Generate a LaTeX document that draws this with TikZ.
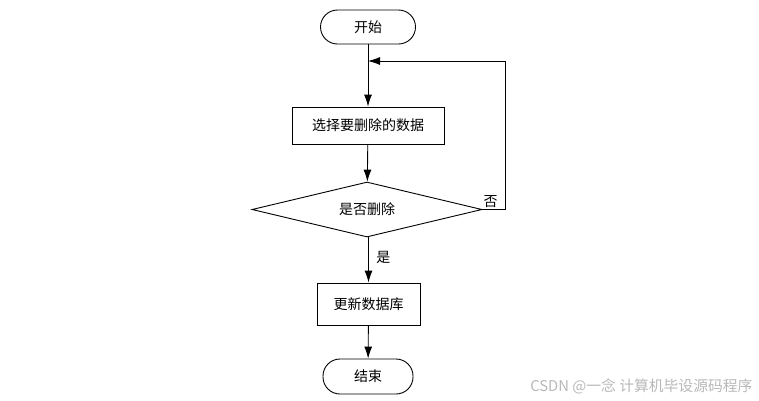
\documentclass[tikz,border=0pt]{standalone}
\usepackage{fontspec}
\setmainfont{Noto Sans CJK SC}
\usetikzlibrary{arrows.meta}
\usetikzlibrary{shapes.geometric}
\usetikzlibrary{positioning}
\tikzset{flow/.style = {draw, line width=0.9pt, -{Latex[length=12pt, width=8pt]}}}
\tikzset{term/.style = {draw, line width=0.9pt, rectangle, rounded corners=17pt, inner sep=0}}
\tikzset{proc/.style = {draw, line width=0.9pt, rectangle, inner sep=0}}
\tikzset{cond/.style = {draw, line width=0.9pt, diamond, aspect=4, inner sep=0}}
\definecolor{mgray}{rgb}{0.72, 0.72, 0.72}

\begin{document}
\begin{tikzpicture}[x=1pt, y=-1pt, font=\fontsize{14}{16}\selectfont]
    \useasboundingbox (0, 0) rectangle (759, 400);

    \node [term, minimum width=95, minimum height=34] (start) at (368, 27) {开始};
    \node [proc, minimum width=152, minimum height=37] (select) at (368, 125.5) {选择要删除的数据};
    \node [cond, minimum width=230, minimum height=55] (decide) at (367, 209.5) {是否删除};
    \node [proc, minimum width=103, minimum height=42] (update) at (368.5, 304) {更新数据库};
    \node [term, minimum width=90, minimum height=35] (finish) at (368, 376.5) {结束};
    \coordinate (back) at (368, 61);

    \draw [flow] (start) -- (select);
    \draw [flow] (select) -- (decide);
    \draw [flow] (decide.south -| update) -- node [right, pos=0.45, xshift=4pt] {是} (update);
    \draw [flow] (update) -- (finish);
    \draw [flow] (decide.east) -- ++(23, 0) |- (back);
    \node [above right, inner sep=1pt, yshift=1pt] (no) at (decide.east) {否};

    \node [text=mgray, anchor=east, font=\fontsize{14.8}{16}\selectfont] (mark) at (756, 386) {CSDN @一念 计算机毕设源码程序};
  \end{tikzpicture}
\end{document}
